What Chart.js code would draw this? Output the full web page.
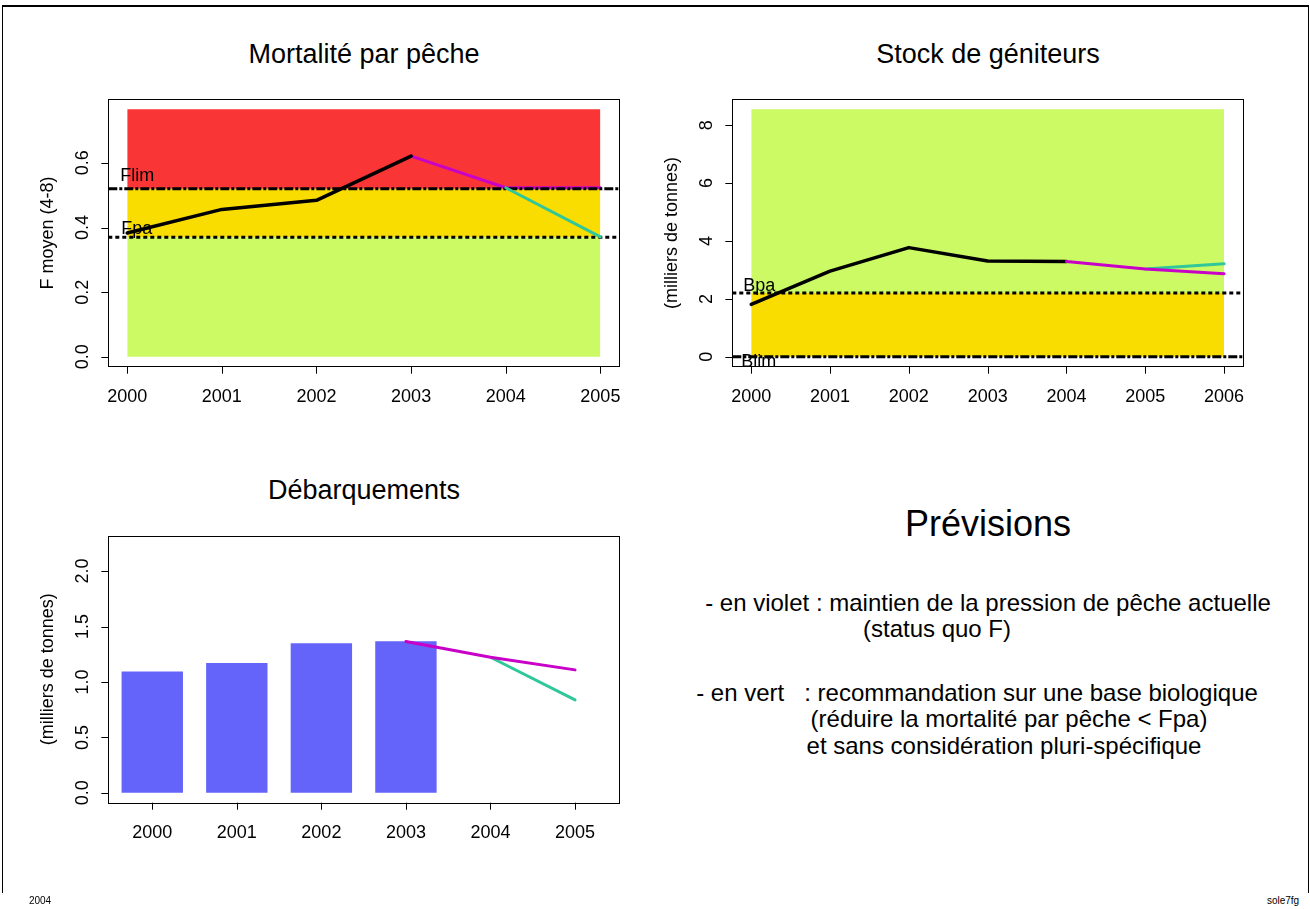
<!DOCTYPE html>
<html lang="fr">
<head>
<meta charset="utf-8">
<title>sole7fg - prévisions</title>
<script src="https://cdn.jsdelivr.net/npm/chart.js@4.4.1/dist/chart.umd.min.js"></script>
<style>
  html, body { margin: 0; padding: 0; background: #fff; }
  body { width: 1310px; height: 909px; position: relative; overflow: hidden;
         font-family: "Liberation Sans", Arial, Helvetica, sans-serif; color: #000; }
  canvas { position: absolute; }
  .frame { position: absolute; left: 2px; top: 5px; width: 1305px; height: 886px;
           border-top: 2px solid #000; border-left: 1px solid #000; border-right: 1px solid #000; }
  .t { position: absolute; white-space: pre; line-height: 1; transform: translate(-50%, -50%); }
  .title { font-size: 27px; }
  .small { font-size: 10px; }
</style>
</head>
<body>
<div class="frame"></div>

<div class="t title" style="left:364px; top:54px;">Mortalité par pêche</div>
<div class="t title" style="left:988px; top:54px;">Stock de géniteurs</div>
<div class="t title" style="left:364px; top:490px;">Débarquements</div>

<canvas id="chartF" width="655" height="450" style="left:0; top:0;"></canvas>
<canvas id="chartSSB" width="655" height="450" style="left:655px; top:0;"></canvas>
<canvas id="chartLand" width="655" height="459" style="left:0; top:450px;"></canvas>

<div class="t" style="left:988px; top:524px; font-size:36px;">Prévisions</div>
<div class="t" style="left:988px; top:603px; font-size:24px;">- en violet : maintien de la pression de pêche actuelle</div>
<div class="t" style="left:937px; top:629px; font-size:24px;">(status quo F)</div>
<div class="t" style="left:977px; top:693px; font-size:24px;">- en vert   : recommandation sur une base biologique</div>
<div class="t" style="left:1009px; top:719px; font-size:24px;">(réduire la mortalité par pêche &lt; Fpa)</div>
<div class="t" style="left:1004px; top:746px; font-size:24px;">et sans considération pluri-spécifique</div>

<div class="t small" style="left:40px; top:901px;">2004</div>
<div class="t small" style="left:1283px; top:901px;">sole7fg</div>

<script>
// ---- données ----
const yearsF = [2000, 2001, 2002, 2003, 2004, 2005];
const yearsSSB = [2000, 2001, 2002, 2003, 2004, 2005, 2006];

// mortalité par pêche
const fHistYears = [2000, 2001, 2002, 2003];
const fHist = [0.383, 0.456, 0.484, 0.621];
const fSqYears = [2003, 2004, 2005];
const fSq = [0.621, 0.523, 0.523];
const fPaYears = [2004, 2005];
const fPa = [0.523, 0.371];
const fLim = 0.52;
const fPaRef = 0.37;
const fZoneTop = 0.766;
const fTicks = [0, 0.2, 0.4, 0.6];
const fTickLabels = ['0.0', '0.2', '0.4', '0.6'];

// stock de géniteurs
const ssbHistYears = [2000, 2001, 2002, 2003, 2004];
const ssbHist = [1.81, 2.96, 3.77, 3.31, 3.29];
const ssbSqYears = [2004, 2005, 2006];
const ssbSq = [3.29, 3.03, 2.87];
const ssbPaYears = [2005, 2006];
const ssbPa = [3.03, 3.21];
const bPa = 2.2;
const bLim = 0;
const ssbZoneTop = 8.55;
const ssbTicks = [0, 2, 4, 6, 8];
const ssbTickLabels = ['0', '2', '4', '6', '8'];

// débarquements
const landYears = [2000, 2001, 2002, 2003];
const landings = [1.094, 1.172, 1.349, 1.367];
const landSqYears = [2003, 2004, 2005];
const landSq = [1.364, 1.223, 1.109];
const landPaYears = [2004, 2005];
const landPa = [1.223, 0.838];
const landYMax = 2.23;
const landTicks = [0, 0.5, 1, 1.5, 2];
const landTickLabels = ['0.0', '0.5', '1.0', '1.5', '2.0'];

// ---- couleurs ----
const RED = '#fa3535';
const YELLOW = '#f9dc00';
const GREEN = '#cbfa64';
const MAGENTA = '#c800c8';
const TEAL = '#30c89a';
const BARS = '#6464fa';
const FONT = '"Liberation Sans", Arial, Helvetica, sans-serif';

function pts(xs, ys) {
    return xs.map((x, i) => ({ x: x, y: ys[i] }));
}

// étendue à la R (4 %)
function expand(lo, hi) {
    const d = (hi - lo) * 0.04;
    return { min: lo - d, max: hi + d };
}

function zone(x0, x1, lo, hi, color) {
    return {
        type: 'line', data: [{ x: x0, y: hi }, { x: x1, y: hi }],
        fill: { value: lo }, backgroundColor: color,
        borderColor: 'rgba(0,0,0,0)', borderWidth: 0, pointRadius: 0, order: 20
    };
}

function refLine(range, y, dash, order) {
    return {
        type: 'line', data: [{ x: range.min, y: y }, { x: range.max, y: y }],
        borderColor: '#000', borderWidth: 3, borderDash: dash, borderCapStyle: 'butt',
        pointRadius: 0, fill: false, clip: false, order: order
    };
}

function series(xs, ys, color, width, order) {
    return {
        type: 'line', data: pts(xs, ys), borderColor: color, borderWidth: width,
        borderCapStyle: 'round', borderJoinStyle: 'round', pointRadius: 0,
        fill: false, tension: 0, order: order
    };
}

const DOTDASH = [9, 2, 3, 2];
const DOTTED = [4, 3];

// axes, cadre et libellés dessinés à la manière de R
const rAxes = {
    id: 'rAxes',
    afterDatasetsDraw(chart, args, opts) {
        const ctx = chart.ctx, a = chart.chartArea, ys = chart.scales.y;
        ctx.save();
        ctx.fillStyle = '#000';
        ctx.font = '18px ' + FONT;
        ctx.textAlign = 'left';
        ctx.textBaseline = 'middle';
        (opts.notes || []).forEach(n => {
            ctx.fillText(n.text, a.left + n.dx, ys.getPixelForValue(n.y) + n.dy);
        });
        ctx.restore();
    },
    afterDraw(chart, args, opts) {
        const ctx = chart.ctx, a = chart.chartArea;
        const xs = chart.scales.x, ys = chart.scales.y;
        ctx.save();
        ctx.strokeStyle = '#000';
        ctx.fillStyle = '#000';
        ctx.lineWidth = 1;
        ctx.strokeRect(Math.round(a.left) + 0.5, Math.round(a.top) + 0.5,
            Math.round(a.right - a.left), Math.round(a.bottom - a.top));

        ctx.beginPath();
        opts.xTicks.forEach(v => {
            const px = Math.round(xs.getPixelForValue(v)) + 0.5;
            ctx.moveTo(px, a.bottom);
            ctx.lineTo(px, a.bottom + 7);
        });
        opts.yTicks.forEach(v => {
            const py = Math.round(ys.getPixelForValue(v)) + 0.5;
            ctx.moveTo(a.left, py);
            ctx.lineTo(a.left - 7, py);
        });
        ctx.stroke();

        ctx.font = '18px ' + FONT;
        ctx.textAlign = 'center';
        ctx.textBaseline = 'middle';
        opts.xTicks.forEach(v => {
            ctx.fillText(String(v), xs.getPixelForValue(v), a.bottom + 30);
        });
        opts.yTicks.forEach((v, i) => {
            ctx.save();
            ctx.translate(a.left - 25, ys.getPixelForValue(v));
            ctx.rotate(-Math.PI / 2);
            ctx.fillText(opts.yLabels[i], 0, 0);
            ctx.restore();
        });
        ctx.save();
        ctx.translate(a.left - 60, (a.top + a.bottom) / 2);
        ctx.rotate(-Math.PI / 2);
        ctx.fillText(opts.yTitle, 0, 0);
        ctx.restore();
        ctx.restore();
    }
};

function makeChart(id, type, datasets, xr, yr, padding, axes) {
    return new Chart(document.getElementById(id), {
        type: type,
        data: { datasets: datasets },
        options: {
            responsive: false,
            animation: false,
            events: [],
            layout: { padding: padding },
            scales: {
                x: { type: 'linear', min: xr.min, max: xr.max, display: false, offset: false,
                     ticks: { stepSize: 1, includeBounds: false } },
                y: { type: 'linear', min: yr.min, max: yr.max, display: false }
            },
            plugins: { legend: { display: false }, tooltip: { enabled: false }, rAxes: axes }
        },
        plugins: [rAxes]
    });
}

// --- Mortalité par pêche ---
const xF = expand(yearsF[0], yearsF[yearsF.length - 1]);
const yF = expand(0, fZoneTop);
makeChart('chartF', 'line', [
    zone(yearsF[0], yearsF[yearsF.length - 1], fLim, fZoneTop, RED),
    zone(yearsF[0], yearsF[yearsF.length - 1], fPaRef, fLim, YELLOW),
    zone(yearsF[0], yearsF[yearsF.length - 1], 0, fPaRef, GREEN),
    series(fSqYears, fSq, MAGENTA, 3, 8),
    refLine(xF, fLim, DOTDASH, 6),
    refLine(xF, fPaRef, DOTTED, 6),
    series(fHistYears, fHist, '#000', 3.5, 4),
    series(fPaYears, fPa, TEAL, 3, 3)
], xF, yF, { left: 108.3, right: 35.7, top: 99.3, bottom: 83.3 }, {
    xTicks: yearsF, yTicks: fTicks, yLabels: fTickLabels, yTitle: 'F moyen (4-8)',
    notes: [{ text: 'Flim', y: fLim, dx: 12, dy: -13 }, { text: 'Fpa', y: fPaRef, dx: 13, dy: -8 }]
});

// --- Stock de géniteurs ---
const xS = expand(yearsSSB[0], yearsSSB[yearsSSB.length - 1]);
const yS = expand(0, ssbZoneTop);
makeChart('chartSSB', 'line', [
    zone(yearsSSB[0], yearsSSB[yearsSSB.length - 1], bPa, ssbZoneTop, GREEN),
    zone(yearsSSB[0], yearsSSB[yearsSSB.length - 1], bLim, bPa, YELLOW),
    refLine(xS, bPa, DOTTED, 6),
    refLine(xS, bLim, DOTDASH, 6),
    series(ssbHistYears, ssbHist, '#000', 3.5, 4),
    series(ssbPaYears, ssbPa, TEAL, 3, 3),
    series(ssbSqYears, ssbSq, MAGENTA, 3, 2)
], xS, yS, { left: 77.3, right: 67, top: 99.3, bottom: 83.3 }, {
    xTicks: yearsSSB, yTicks: ssbTicks, yLabels: ssbTickLabels, yTitle: '(milliers de tonnes)',
    notes: [{ text: 'Bpa', y: bPa, dx: 11, dy: -7 }, { text: 'Blim', y: bLim, dx: 9, dy: 5 }]
});

// --- Débarquements ---
const xL = { min: 1999.48, max: 2005.52 };
const yL = expand(0, landYMax);
makeChart('chartLand', 'bar', [
    { type: 'bar', data: pts(landYears, landings), backgroundColor: BARS,
      barPercentage: 0.726, categoryPercentage: 1, order: 10 },
    series(landPaYears, landPa, TEAL, 3, 3),
    series(landSqYears, landSq, MAGENTA, 3, 2)
], xL, yL, { left: 108.3, right: 36, top: 85.7, bottom: 106.3 }, {
    xTicks: yearsF, yTicks: landTicks, yLabels: landTickLabels, yTitle: '(milliers de tonnes)',
    notes: []
});
</script>
</body>
</html>
